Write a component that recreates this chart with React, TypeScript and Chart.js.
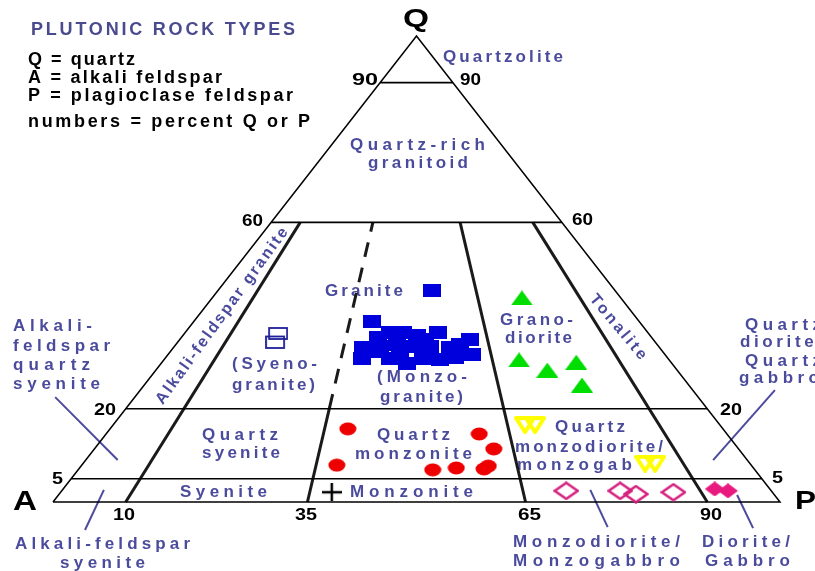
import React, { useEffect, useRef } from 'react';
import { Chart, registerables } from 'chart.js';
Chart.register(...registerables);

// Ternary QAP values: Q = % quartz, P = 100*P/(A+P)
const GRANITE_Q = [45.3, 38.8, 35.4, 36.3, 36.3, 35.8, 36.3, 34.8, 34.8, 33.7, 33.7, 33.1, 33.3, 33.3, 33.3, 33.1, 32.2, 32.2, 30.9, 30.9, 29.8, 30.9, 30.5, 31.1, 31.6];
const GRANITE_P = [53.9, 40.0, 41.8, 44.3, 47.1, 50.1, 54.7, 51.8, 61.3, 59.0, 45.9, 39.0, 42.5, 49.3, 52.8, 56.9, 41.0, 46.7, 39.2, 44.7, 48.1, 51.3, 54.6, 57.7, 61.2];
const SYENOGRANITE_Q = [35.2];
const SYENOGRANITE_P = [20.3];
const GRANODIORITE_Q = [43.8, 30.5, 28.3, 30.0, 25.1];
const GRANODIORITE_P = [75.8, 70.3, 75.1, 81.4, 80.4];
const QMONZONITE_Q = [15.7, 7.9, 14.6, 11.4, 6.9, 7.3, 7.7, 7.1];
const QMONZONITE_P = [38.8, 38.1, 60.1, 62.0, 52.4, 55.9, 60.7, 60.0];
const QMONZODIORITE_Q = [16.5, 8.2];
const QMONZODIORITE_P = [68.7, 85.0];
const MONZODIORITE_Q = [2.4, 2.4, 1.7, 2.1];
const MONZODIORITE_P = [71.1, 78.7, 80.7, 86.1];
const DIORITE_Q = [2.8, 2.4];
const DIORITE_P = [92.2, 93.9];
const MONZONITE_Q = [2.1];
const MONZONITE_P = [38.1];

// Field boundaries
const Q_LEVELS = [5, 20, 60, 90];
const P_RADIAL = [10, 65, 90];
const P_RADIAL_TOP = 60;
const P_SPLIT = 35;
const P_SPLIT_SOLID_TOP = 20;

// Leader lines (fraction of base width, fraction of height)
const LEADER_FROM = [[0.003, 0.225], [0.070, 0.026], [0.739, 0.026], [0.941, 0.015], [0.993, 0.240]];
const LEADER_TO = [[0.089, 0.090], [0.044, -0.060], [0.763, -0.054], [0.963, -0.056], [0.908, 0.090]];

const LBL = '#4b4b9d';
const TITLE_C = '#4a4a8e';
const BLK = '#000000';

// [text, left, centerY, width, size, color, mode, rotationDeg]
const TEXTS: any[] = [
  ['PLUTONIC ROCK TYPES', 31, 30, 264, 18, TITLE_C, 'space'],
  ['Q = quartz', 28, 60, 107, 18, BLK, 'space'],
  ['A = alkali feldspar', 28, 78, 194, 18, BLK, 'space'],
  ['P = plagioclase feldspar', 28, 96, 265, 18, BLK, 'space'],
  ['numbers = percent Q or P', 28, 122, 282, 18, BLK, 'space'],
  ['Q', 403, 20, 26, 25, BLK, 'scale'],
  ['A', 13, 503, 24, 27, BLK, 'scale'],
  ['P', 795, 502, 21, 25, BLK, 'scale'],
  ['90', 352, 81, 26, 16, BLK, 'scale'],
  ['90', 460, 81, 21, 16, BLK, 'scale'],
  ['60', 242, 222, 21, 16, BLK, 'scale'],
  ['60', 572, 221, 21, 16, BLK, 'scale'],
  ['20', 94, 411, 22, 16, BLK, 'scale'],
  ['20', 720, 411, 22, 16, BLK, 'scale'],
  ['5', 52, 480, 11, 16, BLK, 'scale'],
  ['5', 772, 479, 11, 16, BLK, 'scale'],
  ['10', 113, 516, 22, 16, BLK, 'scale'],
  ['35', 295, 516, 22, 16, BLK, 'scale'],
  ['65', 518, 516, 23, 16, BLK, 'scale'],
  ['90', 700, 516, 22, 16, BLK, 'scale'],
  ['Quartzolite', 443, 57, 120, 17, LBL, 'space'],
  ['Quartz-rich', 350, 145, 135, 17, LBL, 'space'],
  ['granitoid', 368, 163, 100, 17, LBL, 'space'],
  ['Granite', 325, 291, 78, 17, LBL, 'space'],
  ['(Syeno-', 232, 364, 85, 17, LBL, 'space'],
  ['granite)', 232, 385, 83, 17, LBL, 'space'],
  ['(Monzo-', 377, 377, 90, 17, LBL, 'space'],
  ['granite)', 380, 397, 83, 17, LBL, 'space'],
  ['Grano-', 500, 320, 73, 17, LBL, 'space'],
  ['diorite', 505, 338, 67, 17, LBL, 'space'],
  ['Quartz', 202, 435, 76, 17, LBL, 'space'],
  ['syenite', 202, 453, 78, 17, LBL, 'space'],
  ['Quartz', 377, 435, 73, 17, LBL, 'space'],
  ['monzonite', 355, 454, 117, 17, LBL, 'space'],
  ['Syenite', 180, 492, 87, 17, LBL, 'space'],
  ['Monzonite', 350, 492, 123, 17, LBL, 'space'],
  ['Quartz', 555, 427, 70, 17, LBL, 'space'],
  ['monzodiorite/', 515, 447, 148, 17, LBL, 'space'],
  ['monzogab', 517, 465, 115, 17, LBL, 'space'],
  ['Alkali-', 13, 326, 79, 17, LBL, 'space'],
  ['feldspar', 13, 346, 97, 17, LBL, 'space'],
  ['quartz', 13, 365, 77, 17, LBL, 'space'],
  ['syenite', 13, 384, 87, 17, LBL, 'space'],
  ['Quartz', 745, 325, 76, 17, LBL, 'space'],
  ['diorite/', 740, 342, 82, 17, LBL, 'space'],
  ['Quartz', 745, 361, 76, 17, LBL, 'space'],
  ['gabbro', 739, 378, 80, 17, LBL, 'space'],
  ['Alkali-feldspar', 15, 544, 175, 17, LBL, 'space'],
  ['syenite', 60, 563, 85, 17, LBL, 'space'],
  ['Monzodiorite/', 513, 542, 167, 17, LBL, 'space'],
  ['Monzogabbro', 513, 561, 167, 17, LBL, 'space'],
  ['Diorite/', 702, 542, 88, 17, LBL, 'space'],
  ['Gabbro', 705, 561, 85, 17, LBL, 'space'],
  ['Tonalite', 618, 327, 80, 16, LBL, 'space', 50],
  ['Alkali-feldspar granite', 222, 316, 214, 16, LBL, 'space', -54],
];

function toXY(q: number, p: number) {
  const qf = q / 100;
  const pf = p / 100;
  return { x: pf * (1 - qf) + 0.5 * qf, y: qf };
}

function glyph(w: number, h: number, draw: (g: CanvasRenderingContext2D) => void) {
  const c = document.createElement('canvas');
  c.width = w;
  c.height = h;
  const g = c.getContext('2d')!;
  draw(g);
  return c;
}

function drawText(ctx: CanvasRenderingContext2D, t: any[]) {
  const [text, left, cy, width, size, color, mode, rot] = t;
  ctx.save();
  ctx.font = `bold ${size}px "Liberation Sans", Arial, sans-serif`;
  (ctx as any).letterSpacing = '0px';
  ctx.fillStyle = color;
  ctx.textBaseline = 'middle';
  ctx.textAlign = 'left';
  const w0 = ctx.measureText(text).width;
  if (mode === 'scale') {
    ctx.translate(left, cy);
    ctx.scale(width / w0, 1);
    ctx.fillText(text, 0, 0);
  } else {
    const n = Math.max(1, text.length - 1);
    let ls = (width - w0) / n;
    ls = Math.max(-1.5, Math.min(8, ls));
    (ctx as any).letterSpacing = ls + 'px';
    if (rot) {
      ctx.translate(left, cy);
      ctx.rotate((rot * Math.PI) / 180);
      ctx.fillText(text, -width / 2, 0);
    } else {
      ctx.fillText(text, left, cy);
    }
  }
  ctx.restore();
}

const textPlugin = {
  id: 'qapTexts',
  beforeDatasetsDraw(chart: any) {
    const ctx = chart.ctx;
    for (const t of TEXTS) drawText(ctx, t);
  },
};

function pts(qs: number[], ps: number[]) {
  return qs.map((q, i) => toXY(q, ps[i]));
}

export default function App() {
  const ref = useRef<HTMLCanvasElement>(null);
  useEffect(() => {
    const blueSq = glyph(18, 13, (g) => { g.fillStyle = '#0000dd'; g.fillRect(0, 0, 18, 13); });
    const syeno = glyph(23, 22, (g) => {
      g.strokeStyle = '#1f1f99'; g.lineWidth = 1.8;
      g.strokeRect(4, 1, 18, 11);
      g.strokeRect(1, 9.5, 18, 11.5);
    });
    const greenTri = glyph(22, 15, (g) => {
      g.fillStyle = '#00dd00'; g.beginPath(); g.moveTo(11, 0); g.lineTo(22, 15); g.lineTo(0, 15); g.closePath(); g.fill();
    });
    const redCirc = glyph(18, 14, (g) => {
      g.fillStyle = '#ee0000'; g.beginPath(); g.ellipse(9, 7, 8.5, 6.5, 0, 0, Math.PI * 2); g.fill();
    });
    const yellowW = glyph(32, 18, (g) => {
      g.strokeStyle = '#ffff00'; g.fillStyle = '#ffff00'; g.lineWidth = 4; g.lineJoin = 'round';
      g.beginPath(); g.moveTo(2, 2); g.lineTo(20, 2); g.lineTo(11, 16); g.closePath(); g.stroke();
      g.beginPath(); g.moveTo(12, 2); g.lineTo(30, 2); g.lineTo(21, 16); g.closePath(); g.stroke();
    });
    const pinkHollow = glyph(26, 19, (g) => {
      g.strokeStyle = '#d4207f'; g.lineWidth = 2.5;
      g.beginPath(); g.moveTo(13, 1.5); g.lineTo(24.5, 9.5); g.lineTo(13, 17.5); g.lineTo(1.5, 9.5); g.closePath(); g.stroke();
    });
    const pinkFilled = glyph(20, 15, (g) => {
      g.fillStyle = '#e8197f';
      g.beginPath(); g.moveTo(10, 0); g.lineTo(20, 7.5); g.lineTo(10, 15); g.lineTo(0, 7.5); g.closePath(); g.fill();
    });
    const plus = glyph(20, 18, (g) => {
      g.strokeStyle = '#000'; g.lineWidth = 2.5;
      g.beginPath(); g.moveTo(0, 9); g.lineTo(20, 9); g.moveTo(10, 0); g.lineTo(10, 18); g.stroke();
    });

    const lineDs = (data: any[], width: number, color = '#000', dash: number[] = []) => ({
      type: 'scatter' as const,
      data,
      showLine: true,
      borderColor: color,
      borderWidth: width,
      borderDash: dash,
      pointRadius: 0,
      fill: false,
      order: 10,
    });
    const markDs = (data: any[], style: any) => ({
      type: 'scatter' as const,
      data,
      pointStyle: style,
      pointRadius: 6,
      order: 0,
    });

    const datasets: any[] = [];
    datasets.push(markDs(pts(MONZONITE_Q, MONZONITE_P), plus));
    datasets.push(markDs(pts(DIORITE_Q, DIORITE_P), pinkFilled));
    datasets.push(markDs(pts(MONZODIORITE_Q, MONZODIORITE_P), pinkHollow));
    datasets.push(markDs(pts(QMONZODIORITE_Q, QMONZODIORITE_P), yellowW));
    datasets.push(markDs(pts(QMONZONITE_Q, QMONZONITE_P), redCirc));
    datasets.push(markDs(pts(GRANODIORITE_Q, GRANODIORITE_P), greenTri));
    datasets.push(markDs(pts(SYENOGRANITE_Q, SYENOGRANITE_P), syeno));
    datasets.push(markDs(pts(GRANITE_Q, GRANITE_P), blueSq));

    datasets.push(lineDs([toXY(0, 0), toXY(0, 100), toXY(100, 0), toXY(0, 0)], 1.5));
    for (const q of Q_LEVELS) datasets.push(lineDs([toXY(q, 0), toXY(q, 100)], 1.6));
    for (const p of P_RADIAL) datasets.push(lineDs([toXY(0, p), toXY(P_RADIAL_TOP, p)], 3, '#1a1a1a'));
    datasets.push(lineDs([toXY(0, P_SPLIT), toXY(P_SPLIT_SOLID_TOP, P_SPLIT)], 3, '#1a1a1a'));
    datasets.push(lineDs([toXY(P_SPLIT_SOLID_TOP, P_SPLIT), toXY(P_RADIAL_TOP, P_SPLIT)], 3, '#1a1a1a', [15, 11]));
    LEADER_FROM.forEach((f, i) => {
      const t = LEADER_TO[i];
      datasets.push(lineDs([{ x: f[0], y: f[1] }, { x: t[0], y: t[1] }], 2, LBL));
    });

    const chart = new Chart(ref.current!, {
      type: 'scatter',
      data: { datasets },
      options: {
        animation: false,
        responsive: false,
        maintainAspectRatio: false,
        layout: { padding: 0, autoPadding: false },
        plugins: { legend: { display: false }, tooltip: { enabled: false } },
        scales: {
          x: { type: 'linear', display: false, min: -53 / 727, max: 762 / 727 },
          y: { type: 'linear', display: false, min: -69 / 466, max: 502 / 466 },
        },
      },
      plugins: [textPlugin],
    });
    return () => chart.destroy();
  }, []);

  return (
    <div style={{ position: 'absolute', left: 0, top: 0, width: 815, height: 571, background: '#fff' }}>
      <canvas ref={ref} width={815} height={571} style={{ display: 'block', width: 815, height: 571 }} />
    </div>
  );
}
